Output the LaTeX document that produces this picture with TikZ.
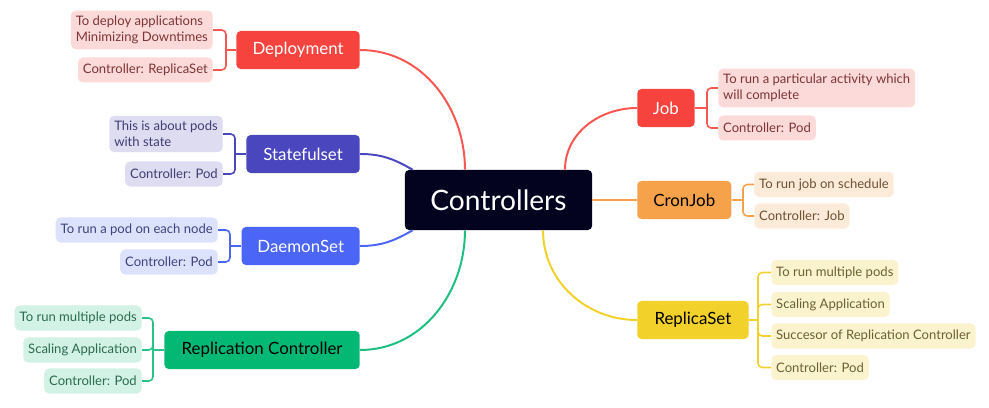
\documentclass[tikz,border=0pt]{standalone}
\usepackage{fontspec}
\setmainfont{Lato}
\usetikzlibrary{calc}
\definecolor{nacht}{HTML}{03031F}
\definecolor{rot}{HTML}{F7433D}
\definecolor{rotl}{HTML}{FDDADA}
\definecolor{rotd}{HTML}{7E3535}
\definecolor{indig}{HTML}{4A47BE}
\definecolor{indigl}{HTML}{DDDCF1}
\definecolor{indigd}{HTML}{403E72}
\definecolor{blau}{HTML}{4B65F6}
\definecolor{blaul}{HTML}{DDE2FC}
\definecolor{blaud}{HTML}{3C447F}
\definecolor{gruen}{HTML}{03B872}
\definecolor{gruenl}{HTML}{D1F2E4}
\definecolor{gruend}{HTML}{2D6B52}
\definecolor{orng}{HTML}{F5A24B}
\definecolor{orngl}{HTML}{FDEBD9}
\definecolor{orngd}{HTML}{6F5133}
\definecolor{gelb}{HTML}{F2D12B}
\definecolor{gelbl}{HTML}{FBF3CE}
\definecolor{gelbd}{HTML}{6B6131}
\tikzset{
  haupt/.style={fill=nacht,text=white,rounded corners=3pt,minimum width=4.68cm,minimum height=1.5cm,font=\fontsize{20}{23}\selectfont},
  zweig/.style={rounded corners=3pt,minimum height=0.95cm,font=\fontsize{12}{14}\selectfont},
  blatt/.style={rounded corners=3.5pt,minimum height=0.625cm,inner xsep=3.5pt,inner ysep=3.8pt,align=left,font=\fontsize{9.3}{11.4}\selectfont},
  ast/.style={line width=1.4pt},
  klammer/.style={line width=1.1pt,rounded corners=3pt},
}
\begin{document}
\begin{tikzpicture}[x=0.025cm,y=0.025cm]
  \useasboundingbox (0,0) rectangle (989,408);
  \node[haupt] (ctrl) at (498.5,208) {Controllers};
  % linke Seite
  \node[zweig,fill=rot,text=white,minimum width=3.08cm,anchor=east] (dep) at (360,358) {Deployment};
  \node[zweig,fill=indig,text=white,minimum width=2.83cm,anchor=east] (stat) at (360,254) {Statefulset};
  \node[zweig,fill=blau,text=white,minimum width=2.95cm,anchor=east] (dae) at (360,162) {DaemonSet};
  \node[zweig,fill=gruen,text=black,minimum width=4.88cm,anchor=east] (rc) at (360,58) {Replication Controller};
  \node[blatt,fill=rotl,text=rotd,anchor=east] (depa) at (213,378) {To deploy applications\\Minimizing Downtimes};
  \node[blatt,fill=rotl,text=rotd,anchor=east] (depb) at (213,338) {Controller: ReplicaSet};
  \node[blatt,fill=indigl,text=indigd,anchor=east] (stata) at (223,274) {This is about pods\\with state};
  \node[blatt,fill=indigl,text=indigd,anchor=east] (statb) at (223,234) {Controller: Pod};
  \node[blatt,fill=blaul,text=blaud,anchor=east] (daea) at (218,178) {To run a pod on each node};
  \node[blatt,fill=blaul,text=blaud,anchor=east] (daeb) at (218,146) {Controller: Pod};
  \node[blatt,fill=gruenl,text=gruend,anchor=east] (rca) at (142,90) {To run multiple pods};
  \node[blatt,fill=gruenl,text=gruend,anchor=east] (rcb) at (142,58) {Scaling Application};
  \node[blatt,fill=gruenl,text=gruend,anchor=east] (rcc) at (142,27) {Controller: Pod};
  % rechte Seite
  \node[zweig,fill=rot,text=white,minimum width=1.43cm,anchor=west] (job) at (637,300) {Job};
  \node[zweig,fill=orng,text=black,minimum width=2.35cm,anchor=west] (cron) at (637,208) {CronJob};
  \node[zweig,fill=gelb,text=black,minimum width=2.78cm,anchor=west] (rs) at (637,88) {ReplicaSet};
  \node[blatt,fill=rotl,text=rotd,anchor=west] (joba) at (718,320) {To run a particular activity which\\will complete};
  \node[blatt,fill=rotl,text=rotd,anchor=west] (jobb) at (718,280) {Controller: Pod};
  \node[blatt,fill=orngl,text=orngd,anchor=west] (crona) at (754,223.5) {To run job on schedule};
  \node[blatt,fill=orngl,text=orngd,anchor=west] (cronb) at (754,192) {Controller: Job};
  \node[blatt,fill=gelbl,text=gelbd,anchor=west] (rsa) at (771,135.5) {To run multiple pods};
  \node[blatt,fill=gelbl,text=gelbd,anchor=west] (rsb) at (771,103.5) {Scaling Application};
  \node[blatt,fill=gelbl,text=gelbd,anchor=west] (rsc) at (771,72) {Succesor of Replication Controller};
  \node[blatt,fill=gelbl,text=gelbd,anchor=west] (rsd) at (771,40.5) {Controller: Pod};
  % Aeste zur Mitte
  \draw[ast,rot!90] (dep.east) to[out=0,in=90] ($(ctrl.north)+(-33.5,0)$);
  \draw[ast,indig] (stat.east) to[out=0,in=150] ($(ctrl.north west)+(8,0)$);
  \draw[ast,blau] (dae.east) to[out=0,in=-150] ($(ctrl.south west)+(8,0)$);
  \draw[ast,gruen!90!white] (rc.east) to[out=0,in=-90] ($(ctrl.south)+(-33.5,0)$);
  \draw[ast,rot!90] (job.west) to[out=180,in=90] ($(ctrl.north)+(66.5,0)$);
  \draw[ast,orng] (ctrl.east) -- (cron.west);
  \draw[ast,gelb] (rs.west) to[out=180,in=-90] ($(ctrl.south)+(44.5,0)$);
  % Klammern
  \coordinate (depk) at (226,358);
  \coordinate (statk) at (235,254);
  \coordinate (daek) at (230,162);
  \coordinate (rck) at (153,58);
  \coordinate (jobk) at (707,300);
  \coordinate (cronk) at (743,208);
  \coordinate (rsk) at (758,88);
  \draw[klammer,rot!90] (dep.west) -- (depk);
  \foreach \b in {depa,depb} \draw[klammer,rot!90] (depk) |- (\b.east);
  \draw[klammer,indig] (stat.west) -- (statk);
  \foreach \b in {stata,statb} \draw[klammer,indig] (statk) |- (\b.east);
  \draw[klammer,blau] (dae.west) -- (daek);
  \foreach \b in {daea,daeb} \draw[klammer,blau] (daek) |- (\b.east);
  \draw[klammer,gruen!85!white] (rc.west) -- (rck);
  \foreach \b in {rca,rcb,rcc} \draw[klammer,gruen!85!white] (rck) |- (\b.east);
  \draw[klammer,rot!90] (job.east) -- (jobk);
  \foreach \b in {joba,jobb} \draw[klammer,rot!90] (jobk) |- (\b.west);
  \draw[klammer,orng] (cron.east) -- (cronk);
  \foreach \b in {crona,cronb} \draw[klammer,orng] (cronk) |- (\b.west);
  \draw[klammer,gelb] (rs.east) -- (rsk);
  \foreach \b in {rsa,rsb,rsc,rsd} \draw[klammer,gelb] (rsk) |- (\b.west);
\end{tikzpicture}
\end{document}
